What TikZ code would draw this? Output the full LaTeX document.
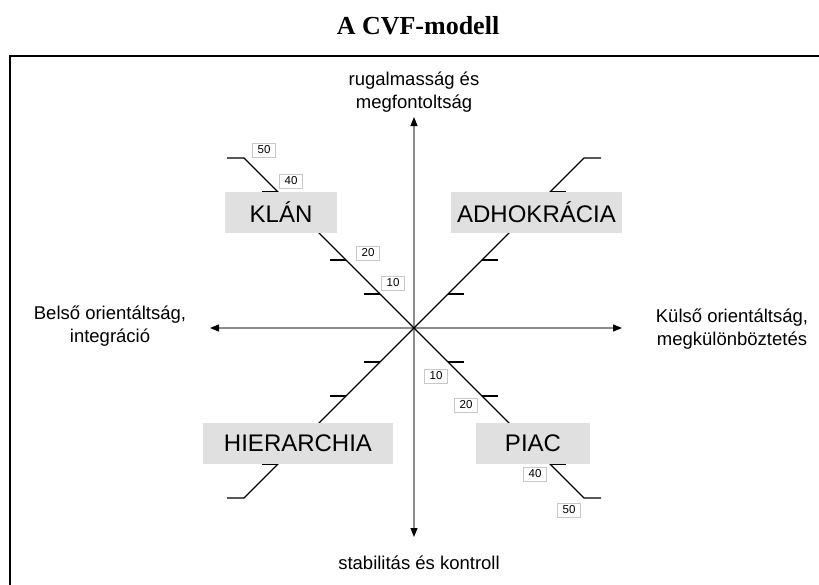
\documentclass[tikz,border=0pt]{standalone}
\usepackage{fontspec}
\setmainfont{Liberation Serif}
\setsansfont{Liberation Sans}
\usetikzlibrary{arrows.meta}
\definecolor{boxgray}{RGB}{224,224,224}
\definecolor{axisgray}{RGB}{140,140,140}
\definecolor{numgray}{RGB}{200,200,200}

\begin{document}
\begin{tikzpicture}[
  x=1pt,y=-1pt,
  font=\sffamily,
  axis/.style={draw=axisgray,line width=1.1pt,
               -{Triangle[length=9pt,width=7pt,color=black]}},
  diag/.style={draw=black,line width=1.2pt},
  quad/.style={fill=boxgray,minimum height=41pt,inner sep=0pt,
               font=\fontsize{24}{28}\selectfont\sffamily},
  num/.style={draw=numgray,fill=white,line width=0.6pt,inner sep=1pt,
              minimum width=23pt,minimum height=14pt,
              font=\fontsize{11.5}{13}\selectfont\sffamily},
  axlab/.style={align=center,font=\fontsize{18.5}{23}\selectfont\sffamily},
]
  \useasboundingbox (0,0) rectangle (819,584);
  \node[font=\fontsize{26}{30}\selectfont\rmfamily\bfseries] (title) at (418,26) {A CVF-modell};
  \draw[line width=2pt] (10,600) -- (10,56) -- (840,56);

  \coordinate (o) at (414,328);
  \coordinate (top) at (414,117);
  \coordinate (bottom) at (414,537);
  \coordinate (left) at (210,328);
  \coordinate (right) at (622,328);
  \draw[axis] (o) -- (top);
  \draw[axis] (o) -- (bottom);
  \draw[axis] (o) -- (left);
  \draw[axis] (o) -- (right);

  \node[axlab] (flex) at (414,92) {rugalmasság és\\megfontoltság};
  \node[axlab] (stab) at (419,563) {stabilitás és kontroll};
  \node[axlab] (intern) at (110,326) {Belső orientáltság,\\integráció};
  \node[axlab] (extern) at (732,329) {Külső orientáltság,\\megkülönböztetés};

  % diagonals with their hooks
  \coordinate (nw) at (244,158);
  \coordinate (ne) at (584,158);
  \coordinate (sw) at (244,498);
  \coordinate (se) at (584,498);
  \draw[diag] (o) -- (nw) -- ++(-17,0);
  \draw[diag] (o) -- (ne) -- ++(17,0);
  \draw[diag] (o) -- (sw) -- ++(-17,0);
  \draw[diag] (o) -- (se) -- ++(17,0);
  \foreach \k in {1,2,3,4} {
    \draw[diag] ([shift={(-34*\k,-34*\k)}]o) -- ++(-16,0);
    \draw[diag] ([shift={(34*\k,-34*\k)}]o) -- ++(16,0);
    \draw[diag] ([shift={(-34*\k,34*\k)}]o) -- ++(-16,0);
    \draw[diag] ([shift={(34*\k,34*\k)}]o) -- ++(16,0);
  }

  \node[num] (nw10) at (393,283) {10};
  \node[num] (nw20) at (368,253) {20};
  \node[num] (nw40) at (291,181) {40};
  \node[num] (nw50) at (264,150) {50};
  \node[num] (se10) at (436,376) {10};
  \node[num] (se20) at (466,405) {20};
  \node[num] (se40) at (535,474) {40};
  \node[num] (se50) at (569,510) {50};

  \node[quad,minimum width=112pt] (klan) at (281,212.5) {KLÁN};
  \node[quad,minimum width=171pt] (adhok) at (536.5,212.5) {ADHOKRÁCIA};
  \node[quad,minimum width=190pt] (hier) at (298,443.5) {HIERARCHIA};
  \node[quad,minimum width=114pt] (piac) at (533,443.5) {PIAC};
\end{tikzpicture}
\end{document}
